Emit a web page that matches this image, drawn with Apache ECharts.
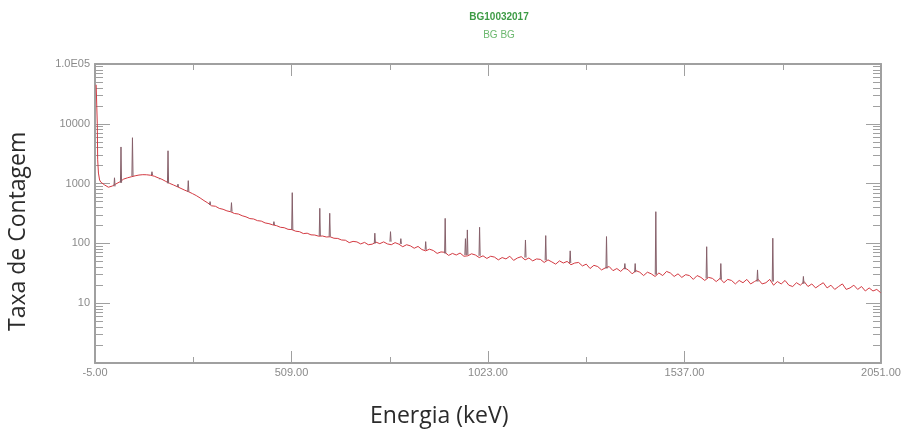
<!DOCTYPE html>
<html>
<head>
<meta charset="utf-8">
<title>BG10032017</title>
<script src="https://cdn.jsdelivr.net/npm/echarts@6/dist/echarts.min.js"></script>
<style>
  html, body { margin: 0; padding: 0; background: #fff; }
  #chart { width: 906px; height: 444px; }
</style>
</head>
<body>
<div id="chart"></div>
<script>
// energy axis labels start at -5.00, so the axis runs on energy + 5
const energyOffset = 5;
const xTickLabels = ["-5.00", "509.00", "1023.00", "1537.00", "2051.00"];
const yTickLabels = { 1: "", 10: "10", 100: "100", 1000: "1000", 10000: "10000", 100000: "1.0E05" };

// first channels (noise edge)
const lowEnergy = [-2, 1, 2, 4, 7];
const lowCounts = [45000, 10000, 2500, 1500, 1150];

// continuum read every 10 keV from 10 to 2050 keV
const gridStart = 10;
const gridStep = 10;
const spectrumCounts = [
	1060, 950, 870, 910, 990, 1070, 1190, 1250, 1300, 1350,
	1390, 1410, 1405, 1380, 1330, 1250, 1180, 1090, 1010, 950,
	890, 830, 775, 730, 680, 630, 575, 520, 475, 425,
	418, 385, 372, 350, 338, 316, 310, 290, 278, 260,
	256, 240, 236, 220, 214, 204, 198, 186, 183, 172,
	170, 160, 157, 146, 148, 139, 138, 132, 133, 128,
	129, 122, 121, 114, 113, 103, 108, 106, 98, 104,
	95, 97, 105, 99, 106, 98, 95, 103, 97, 88,
	95, 91, 83, 89, 79, 75, 80, 76, 68, 72,
	71, 63, 68, 64, 69, 61, 62, 67, 64, 58,
	62, 56, 61, 59, 53, 58, 55, 61, 52, 57,
	60, 53, 57, 51, 55, 54, 48, 53, 49, 45,
	51, 47, 50, 44, 47, 48, 42, 45, 38, 43,
	41, 36, 39, 41, 35, 38, 34, 39, 36, 31,
	35, 33, 29, 33, 31, 28, 32, 29, 34, 32,
	28, 31, 27, 30, 29, 25, 29, 27, 24, 27,
	26, 23, 26, 22, 25, 24, 21, 24, 22, 25,
	21, 23, 25, 21, 22, 25, 20, 23, 21, 24,
	20, 19, 22, 20, 23, 19, 21, 18, 20, 22,
	18, 20, 17, 19, 21, 17, 18, 20, 17, 19,
	16, 18, 16, 17, 15
];

// peaks: energy (keV), top and foot counts
const peakEnergy = [46, 63, 93, 144, 165, 186, 212, 239, 296, 352, 463, 511, 583, 609, 727, 768, 795, 860, 911, 964, 969, 1001, 1121, 1174, 1238, 1333, 1381, 1408, 1462, 1595, 1632, 1728, 1768, 1848];
const peakTop = [1250, 4100, 5850, 1580, 1230, 3540, 980, 1120, 500, 480, 231, 705, 386, 319, 148, 157, 120, 107, 262, 120, 168, 186, 114, 135, 75, 130, 46, 46, 339, 88, 46, 36, 122, 28];
const peakBase = [900, 1030, 1330, 1390, 1180, 1010, 880, 730, 440, 339, 203, 168, 133, 130, 100, 107, 98, 78, 68, 64, 64, 62, 58, 52, 47, 38, 37, 33, 30, 26, 25, 23, 23, 21];

const continuum = [];
lowEnergy.forEach((e, i) => continuum.push([e + energyOffset, lowCounts[i]]));
spectrumCounts.forEach((c, i) => continuum.push([gridStart + i * gridStep + energyOffset, c]));

const peaks = [];
peakEnergy.forEach((e, i) => {
	const x = e + energyOffset;
	peaks.push([x - 1.5, peakBase[i]], [x, peakTop[i]], [x + 1.5, peakBase[i]], [x, "-"]);
});

const axisGray = "#a0a0a0";
const labelFont = "Liberation Sans";

function energyAxis(position) {
	return {
		type: "value",
		position: position,
		min: 0,
		max: 2056,
		interval: 514,
		axisLine: { onZero: false, lineStyle: { color: axisGray, width: 2 } },
		axisTick: { inside: true, length: 12, lineStyle: { color: axisGray } },
		minorTick: { show: true, splitNumber: 2, length: 6, lineStyle: { color: axisGray } },
		splitLine: { show: false },
		axisLabel: {
			show: position === "bottom",
			showMinLabel: true,
			showMaxLabel: true,
			margin: 4,
			color: "#8a8a8a",
			fontSize: 11,
			fontFamily: labelFont,
			formatter: (v) => xTickLabels[Math.round(v / 514)],
		},
	};
}

function countAxis(position) {
	return {
		type: "log",
		logBase: 10,
		min: 1,
		max: 100000,
		position: position,
		axisLine: { show: true, onZero: false, lineStyle: { color: axisGray, width: 2 } },
		axisTick: { show: true, inside: true, length: 15, lineStyle: { color: axisGray } },
		minorTick: { show: true, splitNumber: 9, length: 8, lineStyle: { color: axisGray } },
		splitLine: { show: false },
		axisLabel: {
			show: position === "left",
			margin: 5,
			color: "#8a8a8a",
			fontSize: 11,
			fontFamily: labelFont,
			formatter: (v) => yTickLabels[Math.round(v)] || "",
		},
	};
}

const chart = echarts.init(document.getElementById("chart"));
chart.setOption({
	animation: false,
	backgroundColor: "#fff",
	title: {
		text: "BG10032017",
		subtext: "BG BG",
		left: 494,
		top: 7,
		textAlign: "center",
		itemGap: 8,
		textStyle: {
			color: "#3d9b45",
			fontWeight: "bold",
			fontSize: 10,
			fontFamily: labelFont,
		},
		subtextStyle: {
			color: "#6cb86f",
			fontSize: 10,
			fontFamily: labelFont,
		},
	},
	grid: {
		left: 95,
		right: 25,
		top: 64,
		bottom: 81,
		containLabel: false,
	},
	xAxis: [energyAxis("bottom"), energyAxis("top")],
	yAxis: [countAxis("left"), countAxis("right")],
	graphic: [
		{
			type: "text",
			left: 370,
			top: 405,
			style: {
				text: "Energia (keV)",
				fill: "#2b2b2b",
				font: "23px 'Open Sans'",
			},
		},
		{
			type: "text",
			x: 7,
			y: 331,
			rotation: Math.PI / 2,
			style: {
				text: "Taxa de Contagem",
				fill: "#2b2b2b",
				font: "23px 'Open Sans'",
			},
		},
	],
	series: [
		{
			name: "continuum",
			type: "line",
			data: continuum,
			showSymbol: false,
			lineStyle: { color: "#d33a42", width: 1 },
			z: 2,
		},
		{
			name: "peaks",
			type: "line",
			xAxisIndex: 1,
			yAxisIndex: 1,
			data: peaks,
			showSymbol: false,
			connectNulls: false,
			lineStyle: { color: "#86606a", width: 1 },
			z: 3,
		},
	],
});
</script>
</body>
</html>
